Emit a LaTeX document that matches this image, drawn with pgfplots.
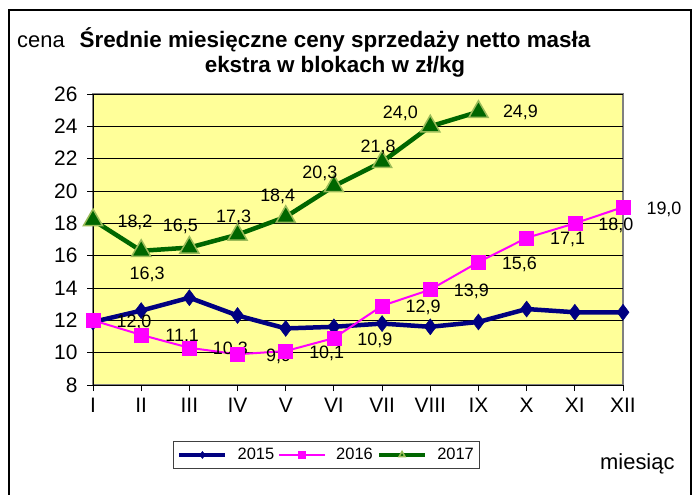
\documentclass[border=0pt]{standalone}
\usepackage{fontspec}
\setmainfont{Liberation Sans}
\usepackage{pgfplots}
\pgfplotsset{compat=1.18}
\usepackage{pgfplotstable}
\definecolor{chartyellow}{HTML}{FFFF99}
\definecolor{navy15}{HTML}{000080}
\definecolor{mag16}{HTML}{FF00FF}
\definecolor{green17}{HTML}{006600}
\definecolor{olive17}{HTML}{9BBB59}

\pgfplotstableread{
x y
0 11.9
1 12.6
2 13.4
3 12.3
4 11.5
5 11.6
6 11.8
7 11.6
8 11.9
9 12.7
10 12.5
11 12.5
}\dataA

\pgfplotstableread{
x y lab
0 12.0 12,0
1 11.1 11,1
2 10.3 10,3
3 9.9 9,9
4 10.1 10,1
5 10.9 10,9
6 12.9 12,9
7 13.9 13,9
8 15.6 15,6
9 17.1 17,1
10 18.0 18,0
11 19.0 19,0
}\dataB

\pgfplotstableread{
x y lab dx dy
0 18.2 18,2 42 -2
1 16.3 16,3 6 -24
2 16.5 16,5 -9 21
3 17.3 17,3 -4 17
4 18.4 18,4 -8 20
5 20.3 20,3 -14 13
6 21.8 21,8 -4 15
7 24.0 24,0 -30 13
8 24.9 24,9 42 -1
}\dataC

\begin{document}
\begin{tikzpicture}
\useasboundingbox (0,0) rectangle (696bp,-495bp);
\draw[black, line width=1.5bp] (9bp,-495bp) -- (9bp,-10bp) -- (691bp,-10bp) -- (691bp,-495bp);
\node[anchor=base west, inner sep=0pt, font=\fontsize{22}{22}\selectfont] at (17bp,-47bp) {cena};
\node[align=center, inner sep=0pt, font=\fontsize{22.5}{25}\selectfont\bfseries] at (335bp,-52bp) {Średnie miesięczne ceny sprzedaży netto masła\\ekstra w blokach w zł/kg};
\node[anchor=base west, inner sep=0pt, font=\fontsize{22}{22}\selectfont] at (600bp,-469bp) {miesiąc};
\begin{axis}[
  at={(93bp,-385bp)}, anchor=south west,
  scale only axis, width=530bp, height=291bp,
  xmin=0, xmax=11, ymin=8, ymax=26,
  xtick={0,...,11},
  xticklabels={I,II,III,IV,V,VI,VII,VIII,IX,X,XI,XII},
  ytick={8,10,...,26},
  ymajorgrids, grid style={black, line width=0.8bp},
  axis background/.style={fill=chartyellow, draw=gray, line width=2bp},
  axis x line*=bottom, axis y line*=left,
  axis line style={black, line width=1bp, -},
  tick align=outside, major tick length=6bp,
  tick style={black, line width=1bp},
  ticklabel style={font=\fontsize{21}{21}\selectfont},
  yticklabel style={xshift=-6bp},
  xticklabel style={yshift=-4bp},
  /pgf/number format/assume math mode=true,
  clip=false,
  legend columns=3,
  legend style={at={(0.4406,-0.2405)}, anchor=center, draw=black!75, line width=0.8bp,
    font=\fontsize{16.5}{16.5}\selectfont, inner xsep=4bp, inner ysep=5bp,
    /tikz/every even column/.append style={column sep=2bp},
    /tikz/every odd column/.append style={column sep=8bp}},
  legend image code/.code={\draw[mark repeat=2,mark phase=2] plot coordinates {(0bp,0bp) (23bp,0bp) (46bp,0bp)};},
  legend image post style={mark size=3.5bp},
]
\addplot[navy15, line width=4.5bp, mark=diamond*, mark size=8bp, mark options={fill=navy15, draw=navy15, line width=0.5bp}] table[x=x,y=y] {\dataA};
\addlegendentry{2015}
\addplot[mag16, line width=2bp, mark=square*, mark size=7bp, mark options={fill=mag16, draw=mag16, line width=0.5bp},
  nodes near coords, point meta=explicit symbolic,
  every node near coord/.append style={font=\fontsize{18}{18}\selectfont, text=black, anchor=center, xshift=41bp, yshift=-2bp}]
  table[x=x,y=y,meta=lab] {\dataB};
\addlegendentry{2016}
\addplot[green17, line width=4.5bp, mark=triangle*, mark size=11bp, mark options={fill=green17, draw=olive17, line width=1.5bp},
  nodes near coords, point meta=explicit symbolic,
  visualization depends on={\thisrow{dx} \as \dxv},
  visualization depends on={\thisrow{dy} \as \dyv},
  every node near coord/.append style={font=\fontsize{18}{18}\selectfont, text=black, anchor=center, xshift=\dxv bp, yshift=\dyv bp}]
  table[x=x,y=y,meta=lab] {\dataC};
\addlegendentry{2017}
\end{axis}
\end{tikzpicture}
\end{document}
